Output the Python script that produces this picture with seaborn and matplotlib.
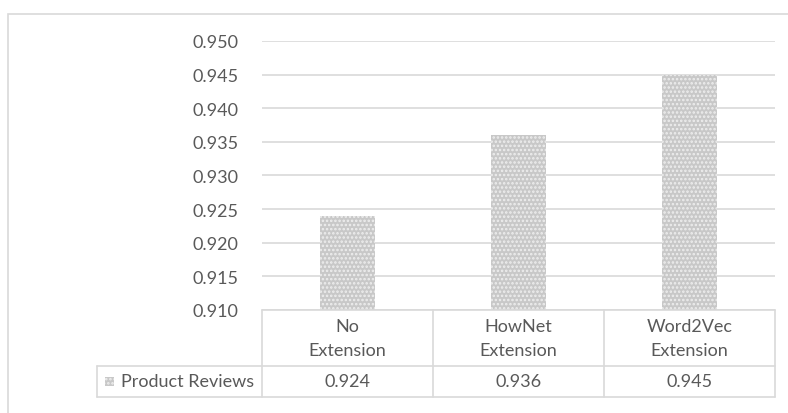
import matplotlib
matplotlib.use("Agg")
import matplotlib.pyplot as plt
import matplotlib.transforms as mtransforms
from matplotlib.patches import Rectangle
import seaborn as sns
import pandas as pd

# ---------- Data ----------
categories = ["No\nExtension", "HowNet\nExtension", "Word2Vec\nExtension"]
values = [0.924, 0.936, 0.945]
series_name = "Product Reviews"
y_ticks = [0.910, 0.915, 0.920, 0.925, 0.930, 0.935, 0.940, 0.945, 0.950]

df = pd.DataFrame({"Method": categories, "Score": values})

sns.set_theme(style="white")
plt.rcParams["font.family"] = ["Lato", "DejaVu Sans"]
plt.rcParams["hatch.linewidth"] = 1.2

W, H = 788, 414
text_col = "#595959"
line_col = "#d9d9d9"
bar_col = "#c8c8c8"

fig = plt.figure(figsize=(W / 100, H / 100), dpi=100)

# outer chart border (left + top visible only)
fig.patches.append(Rectangle((8 / W, -0.1), 1.2, (H - 15) / H + 0.1,
                             transform=fig.transFigure, fill=False,
                             edgecolor=line_col, linewidth=1.2))

# plot area in pixels
left_px, right_px, top_px, bot_px = 262, 775, 42, 311
ax = fig.add_axes([left_px / W, (H - bot_px) / H,
                   (right_px - left_px) / W, (bot_px - top_px) / H])

sns.barplot(data=df, x="Method", y="Score", ax=ax, width=0.316,
            color=bar_col, saturation=1, edgecolor="white", linewidth=0)
for p in ax.patches:
    p.set_hatch("....")
    p.set_edgecolor("#eeeeee")
    p.set_linewidth(0)

ax.set_ylim(y_ticks[0], y_ticks[-1])
ax.set_xlim(-0.5, len(categories) - 0.5)
ax.set_yticks(y_ticks)
ax.set_yticklabels([f"{t:.3f}" for t in y_ticks], color=text_col, fontsize=13)
ax.tick_params(axis="y", length=0, pad=17)
ax.set_xticks([])
ax.set_xlabel("")
ax.set_ylabel("")
for s in ax.spines.values():
    s.set_visible(False)
ax.yaxis.grid(True, color=line_col, linewidth=1.2)
ax.set_axisbelow(True)

# ---------- data table under the axis ----------
ax_h = bot_px - top_px
col_w = (right_px - left_px) / len(categories)
hdr_bot = -(367 - bot_px) / ax_h
row_bot = -(398 - bot_px) / ax_h
legend_left = -0.5 - (left_px - 97) / col_w

trans = mtransforms.blended_transform_factory(ax.transData, ax.transAxes)
kw = dict(transform=trans, color=line_col, linewidth=1.2, clip_on=False)

# horizontal lines
ax.plot([-0.5, len(categories) - 0.5], [0, 0], **kw)
ax.plot([legend_left, len(categories) - 0.5], [hdr_bot, hdr_bot], **kw)
ax.plot([legend_left, len(categories) - 0.5], [row_bot, row_bot], **kw)
# vertical lines
for i in range(len(categories) + 1):
    ax.plot([i - 0.5, i - 0.5], [0, row_bot], **kw)
ax.plot([legend_left, legend_left], [hdr_bot, row_bot], **kw)

for i, (c, v) in enumerate(zip(categories, values)):
    ax.text(i, hdr_bot / 2, c, transform=trans, ha="center", va="center",
            color=text_col, fontsize=13, linespacing=1.6, clip_on=False)
    ax.text(i, (hdr_bot + row_bot) / 2, f"{v:.3f}", transform=trans,
            ha="center", va="center", color=text_col, fontsize=13, clip_on=False)

# legend key + series name
key_x = legend_left + 8 / col_w
ax.add_patch(Rectangle((key_x, (hdr_bot + row_bot) / 2 - 4.5 / ax_h),
                       9 / col_w, 9 / ax_h, transform=trans, clip_on=False,
                       facecolor=bar_col, hatch="....", edgecolor="#eeeeee",
                       linewidth=0))
ax.text(legend_left + 24 / col_w, (hdr_bot + row_bot) / 2, series_name,
        transform=trans, ha="left", va="center", color=text_col, fontsize=13,
        clip_on=False)

fig.savefig("out.png", dpi=100)
